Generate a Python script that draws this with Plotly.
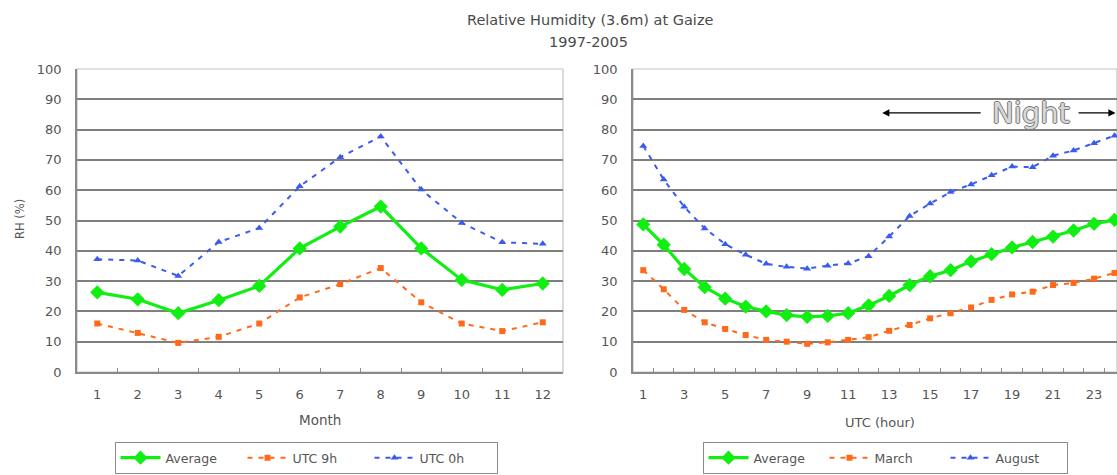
import plotly.graph_objects as go

# ---------------- data ----------------
months = list(range(1, 13))
month_avg = [26.3, 24.0, 19.4, 23.7, 28.4, 40.8, 48.0, 54.6, 40.8, 30.4, 27.1, 29.2]
month_utc9 = [16.0, 12.9, 9.6, 11.6, 16.0, 24.6, 29.0, 34.3, 23.0, 16.0, 13.5, 16.4]
month_utc0 = [37.2, 36.8, 31.7, 42.9, 47.5, 61.3, 70.9, 77.7, 60.2, 49.2, 42.8, 42.3]

hours = list(range(1, 25))
hour_avg = [48.7, 42.0, 34.0, 28.0, 24.2, 21.6, 20.0, 18.8, 18.2, 18.5, 19.4, 22.0,
            25.1, 28.7, 31.6, 33.6, 36.5, 38.9, 41.1, 42.9, 44.7, 46.7, 48.9, 50.2]
hour_march = [33.6, 27.3, 20.5, 16.4, 14.2, 12.2, 10.6, 10.0, 9.3, 9.8, 10.6, 11.5,
              13.6, 15.5, 17.7, 19.4, 21.3, 23.8, 25.6, 26.5, 28.7, 29.4, 30.8, 32.7]
hour_august = [74.6, 63.5, 54.5, 47.4, 42.2, 38.7, 35.7, 34.7, 34.1, 35.1, 35.8, 38.2,
               44.7, 51.5, 55.6, 59.4, 61.9, 64.9, 67.8, 67.6, 71.4, 73.1, 75.5, 78.0]

month_ticks = [str(m) for m in months]
hour_tickvals = list(range(1, 24, 2))
hour_ticks = [str(h) for h in hour_tickvals]
rh_ticks = list(range(0, 101, 10))

title_line1 = "Relative Humidity (3.6m) at Gaize"
title_line2 = "1997-2005"

# ---------------- style ----------------
GREEN = "#11ee11"
ORANGE = "#ff6a1a"
BLUE = "#3b5bee"
FONT = "DejaVu Sans"
TXT = "#555555"
GRID = "#7f7f7f"
AXIS = "#8a8a8a"

W, H = 1117, 475

fig = go.Figure()

def add_series(x, y, name, xa, ya, legend, kind):
    if kind == "avg":
        line = dict(color=GREEN, width=3.2)
        marker = dict(symbol="diamond", size=11, color=GREEN)
    elif kind == "orange":
        line = dict(color=ORANGE, width=2, dash="5px,6px")
        marker = dict(symbol="square", size=6, color=ORANGE)
    else:
        line = dict(color=BLUE, width=2, dash="5px,6px")
        marker = dict(symbol="triangle-up", size=7, color=BLUE)
    fig.add_trace(go.Scatter(x=x, y=y, name=name, mode="lines+markers",
                             line=line, marker=marker, xaxis=xa, yaxis=ya,
                             legend=legend, cliponaxis=False))

add_series(months, month_avg, "Average", "x", "y", "legend", "avg")
add_series(months, month_utc9, "UTC 9h", "x", "y", "legend", "orange")
add_series(months, month_utc0, "UTC 0h", "x", "y", "legend", "blue")

add_series(hours, hour_avg, "Average", "x2", "y2", "legend2", "avg")
add_series(hours, hour_march, "March", "x2", "y2", "legend2", "orange")
add_series(hours, hour_august, "August", "x2", "y2", "legend2", "blue")

# domains in paper coords
y_dom = [1 - 372 / H, 1 - 69 / H]
x1_dom = [77 / W, 563 / W]
x2_dom = [633 / W, 1.0]

common_x = dict(showgrid=False, zeroline=False, showline=True, linecolor=AXIS,
                linewidth=1.5, ticks="", tickfont=dict(family=FONT, size=13, color=TXT),
                ticklabelstandoff=10, fixedrange=True, automargin=False)
common_y = dict(range=[0, 100], tickmode="array", tickvals=rh_ticks,
                ticktext=[str(v) for v in rh_ticks], showgrid=False,
                minor=dict(tickmode="array", tickvals=rh_ticks[1:-1], showgrid=True,
                           gridcolor=GRID, gridwidth=1.7, ticks=""),
                zeroline=False, showline=True, linecolor=AXIS,
                linewidth=1.5, ticks="", tickfont=dict(family=FONT, size=13, color=TXT),
                ticklabelstandoff=11, fixedrange=True, automargin=False)

fig.update_layout(
    width=W, height=H,
    margin=dict(l=0, r=0, t=0, b=0, autoexpand=False),
    paper_bgcolor="white", plot_bgcolor="white",
    font=dict(family=FONT, color=TXT),
    xaxis=dict(domain=x1_dom, anchor="y", range=[0.5, 12.5],
               tickmode="array", tickvals=months, ticktext=month_ticks,
               minor=dict(tickmode="array", tickvals=[m + 0.5 for m in months[:-1]],
                          ticks="inside", ticklen=4, tickcolor=AXIS, showgrid=False),
               **common_x),
    yaxis=dict(domain=y_dom, anchor="x", **common_y),
    xaxis2=dict(domain=x2_dom, anchor="y2", range=[0.5, 24.12],
                tickmode="array", tickvals=hour_tickvals, ticktext=hour_ticks,
                minor=dict(tickmode="array", tickvals=[h + 0.5 for h in hours[:-1]],
                           ticks="inside", ticklen=4, tickcolor=AXIS, showgrid=False),
                **common_x),
    yaxis2=dict(domain=y_dom, anchor="x2", **common_y),
    legend=dict(orientation="h", x=306 / W, xanchor="center", y=1 - 458 / H, yanchor="middle",
                bordercolor=AXIS, borderwidth=1, bgcolor="white",
                font=dict(family=FONT, size=12.5, color=TXT),
                entrywidth=72, entrywidthmode="pixels", itemwidth=40, tracegroupgap=0),
    legend2=dict(orientation="h", x=885 / W, xanchor="center", y=1 - 458 / H, yanchor="middle",
                 bordercolor=AXIS, borderwidth=1, bgcolor="white",
                 font=dict(family=FONT, size=12.5, color=TXT),
                 entrywidth=66, entrywidthmode="pixels", itemwidth=40, tracegroupgap=0),
    showlegend=True,
)

# light plot-area borders
for xr, yr in (("x domain", "y domain"), ("x2 domain", "y2 domain")):
    fig.add_shape(type="rect", xref=xr, yref=yr, x0=0, x1=1, y0=0, y1=1,
                  line=dict(color="#c4c4c4", width=1.2), layer="below")

def pa(text, px, py, size, color=TXT, angle=0):
    return dict(text=text, x=px / W, y=1 - py / H, xref="paper", yref="paper",
                xanchor="center", yanchor="middle", textangle=angle,
                showarrow=False, font=dict(family=FONT, size=size, color=color))

ann = [
    pa(title_line1, 590, 20, 14.5, "#4a4a4a"),
    pa(title_line2, 588, 42, 14.5, "#4a4a4a"),
    pa("RH (%)", 20, 219, 11.5, angle=-90),
    pa("Month", 320, 420, 13.5),
    pa("UTC (hour)", 880, 422, 13),
]
# Night label with arrows
ann.append(dict(text="Night", x=19.9, y=85.5, xref="x2", yref="y2", showarrow=False,
                xanchor="center", yanchor="middle",
                font=dict(family=FONT, size=29, color="#d8d8d8",
                          shadow="-1px 0 #7a7a7a, 1px 0 #7a7a7a, 0 -1px #7a7a7a, 0 1px #7a7a7a")))
ann.append(dict(text="", x=12.66, y=85.5, ax=17.54, ay=85.5, xref="x2", yref="y2",
                axref="x2", ayref="y2", showarrow=True, arrowhead=2, arrowsize=1.2,
                arrowwidth=1.2, arrowcolor="black"))
ann.append(dict(text="", x=24.05, y=85.5, ax=22.17, ay=85.5, xref="x2", yref="y2",
                axref="x2", ayref="y2", showarrow=True, arrowhead=2, arrowsize=1.2,
                arrowwidth=1.2, arrowcolor="black"))
fig.update_layout(annotations=ann)

fig.write_html("out.html")
